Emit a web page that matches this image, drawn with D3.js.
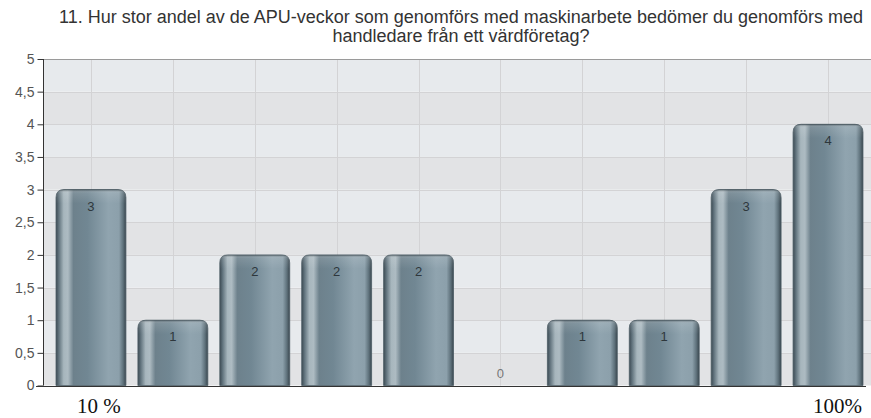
<!DOCTYPE html>
<html>
<head>
<meta charset="utf-8">
<script src="https://cdn.jsdelivr.net/npm/d3@7"></script>
<style>
  body { margin: 0; background: #fff; }
  svg { display: block; }
</style>
</head>
<body>
<div class="chart"></div>
<script>
// data
const categories = ["10 %", "20 %", "30 %", "40 %", "50 %", "60 %", "70 %", "80 %", "90 %", "100%"];
const values = [3, 1, 2, 2, 2, 0, 1, 1, 3, 4];
const shownLabels = ["10 %", "100%"];
const yTicks = [0, 0.5, 1, 1.5, 2, 2.5, 3, 3.5, 4, 4.5, 5];
const titleLines = [
    "11. Hur stor andel av de APU-veckor som genomförs med maskinarbete bedömer du genomförs med",
    "handledare från ett värdföretag?"
];

const width = 871;
const height = 418;
const plotLeft = 43, plotTop = 59, plotBottom = 385.5;

const svg = d3.select(".chart")
    .append("svg")
    .attr("width", width)
    .attr("height", height);

const x = d3.scaleBand()
    .domain(categories)
    .range([plotLeft, 876])
    .paddingInner(0.1465)
    .paddingOuter(0.159);

const y = d3.scaleLinear()
    .domain([0, 5])
    .range([plotBottom, plotTop]);

const sv = d3.formatLocale({decimal: ",", thousands: " ", grouping: [3], currency: ["", " kr"]});
const fmt = sv.format(".1~f");

// gradients
const defs = svg.append("defs");
const g1 = defs.append("linearGradient").attr("id", "barGrad")
    .attr("x1", "0%").attr("x2", "100%").attr("y1", "0%").attr("y2", "0%");
[
    [0, "#3c4a53"], [0.04, "#61737d"], [0.11, "#a7b6bd"], [0.17, "#adbbc2"],
    [0.25, "#6d818c"], [0.45, "#718793"], [0.75, "#90a4af"], [0.9, "#8ca0ab"],
    [0.96, "#5e717b"], [1, "#39464e"]
].forEach(s => g1.append("stop").attr("offset", s[0]).attr("stop-color", s[1]));

const g2 = defs.append("linearGradient").attr("id", "capGrad")
    .attr("x1", "0%").attr("x2", "0%").attr("y1", "0%").attr("y2", "100%");
g2.append("stop").attr("offset", 0).attr("stop-color", "#2e3a41").attr("stop-opacity", 0.6);
g2.append("stop").attr("offset", 0.22).attr("stop-color", "#ffffff").attr("stop-opacity", 0.12);
g2.append("stop").attr("offset", 1).attr("stop-color", "#ffffff").attr("stop-opacity", 0);

// plot background bands
const bands = d3.range(0, 5, 0.5);
svg.selectAll("rect.band")
    .data(bands)
    .enter()
    .append("rect")
    .attr("x", plotLeft)
    .attr("y", d => y(d + 0.5))
    .attr("width", width - plotLeft)
    .attr("height", d => y(d) - y(d + 0.5))
    .attr("fill", (d, i) => i % 2 ? "#e7eaed" : "#e2e3e5");

// grid
svg.selectAll("line.hgrid")
    .data(yTicks.slice(1, -1))
    .enter()
    .append("line")
    .attr("x1", plotLeft).attr("x2", width)
    .attr("y1", d => Math.round(y(d)) + 0.5)
    .attr("y2", d => Math.round(y(d)) + 0.5)
    .attr("stroke", "#d3d3d5");

svg.selectAll("line.vgrid")
    .data(categories)
    .enter()
    .append("line")
    .attr("x1", d => Math.round(x(d) + x.bandwidth() / 2) + 0.5)
    .attr("x2", d => Math.round(x(d) + x.bandwidth() / 2) + 0.5)
    .attr("y1", plotTop).attr("y2", plotBottom)
    .attr("stroke", "#d3d3d5");

// top border
svg.append("line")
    .attr("x1", plotLeft).attr("x2", width)
    .attr("y1", plotTop + 0.5).attr("y2", plotTop + 0.5)
    .attr("stroke", "#9a9a9a");

// bars
function barPath(v, i, h) {
    const bx = x(categories[i]);
    const w = x.bandwidth();
    const by = y(v);
    const r = 8;
    const base = h ? by + h : plotBottom;
    return `M${bx},${base} L${bx},${by + r} Q${bx},${by} ${bx + r},${by} L${bx + w - r},${by} Q${bx + w},${by} ${bx + w},${by + r} L${bx + w},${base} Z`;
}

const bars = values.map((v, i) => ({v, i})).filter(d => d.v > 0);

svg.selectAll("path.bar")
    .data(bars)
    .enter()
    .append("path")
    .attr("class", "bar")
    .attr("d", d => barPath(d.v, d.i))
    .attr("fill", "url(#barGrad)")
    .attr("stroke", "#4d5d66")
    .attr("stroke-width", 0.8);

svg.selectAll("path.cap")
    .data(bars)
    .enter()
    .append("path")
    .attr("class", "cap")
    .attr("d", d => barPath(d.v, d.i, 14))
    .attr("fill", "url(#capGrad)");

// value labels
svg.selectAll("text.val")
    .data(values)
    .enter()
    .append("text")
    .attr("class", "val")
    .text(d => d)
    .attr("x", (d, i) => x(categories[i]) + x.bandwidth() / 2)
    .attr("y", d => d > 0 ? y(d) + 21 : y(0) - 8)
    .attr("text-anchor", "middle")
    .attr("font-family", "Liberation Sans, Arial, sans-serif")
    .attr("font-size", 13)
    .attr("fill", d => d > 0 ? "#2e373c" : "#777");

// axes
const yAxis = d3.axisLeft(y)
    .tickValues(yTicks)
    .tickFormat(fmt)
    .tickSize(6)
    .tickPadding(3);

const ya = svg.append("g")
    .attr("transform", `translate(${plotLeft + 0.5},0)`)
    .call(yAxis);
ya.select(".domain").attr("stroke", "#333").attr("d", `M0,${y(5)}V${plotBottom}`);
ya.selectAll(".tick line").attr("stroke", "#333");
ya.selectAll("text")
    .attr("fill", "#555")
    .attr("font-family", "Liberation Sans, Arial, sans-serif")
    .attr("font-size", 14);

svg.append("line")
    .attr("x1", 36).attr("x2", 866)
    .attr("y1", Math.round(plotBottom) + 0.5).attr("y2", Math.round(plotBottom) + 0.5)
    .attr("stroke", "#333");

// bottom labels
svg.append("text")
    .text(shownLabels[0])
    .attr("x", x(categories[0]) + 21)
    .attr("y", 413)
    .attr("font-family", "Liberation Serif, Times New Roman, serif")
    .attr("font-size", 21)
    .attr("fill", "#111");

svg.append("text")
    .text(shownLabels[1])
    .attr("x", x(categories[categories.length - 1]) + x.bandwidth() - 1)
    .attr("y", 413)
    .attr("text-anchor", "end")
    .attr("font-family", "Liberation Serif, Times New Roman, serif")
    .attr("font-size", 21)
    .attr("fill", "#111");

// title
svg.selectAll("text.title")
    .data(titleLines)
    .enter()
    .append("text")
    .attr("class", "title")
    .text(d => d)
    .attr("x", 461)
    .attr("y", (d, i) => 23 + i * 19)
    .attr("text-anchor", "middle")
    .attr("font-family", "Liberation Sans, Arial, sans-serif")
    .attr("font-size", 18)
    .attr("fill", "#333");
</script>
</body>
</html>
